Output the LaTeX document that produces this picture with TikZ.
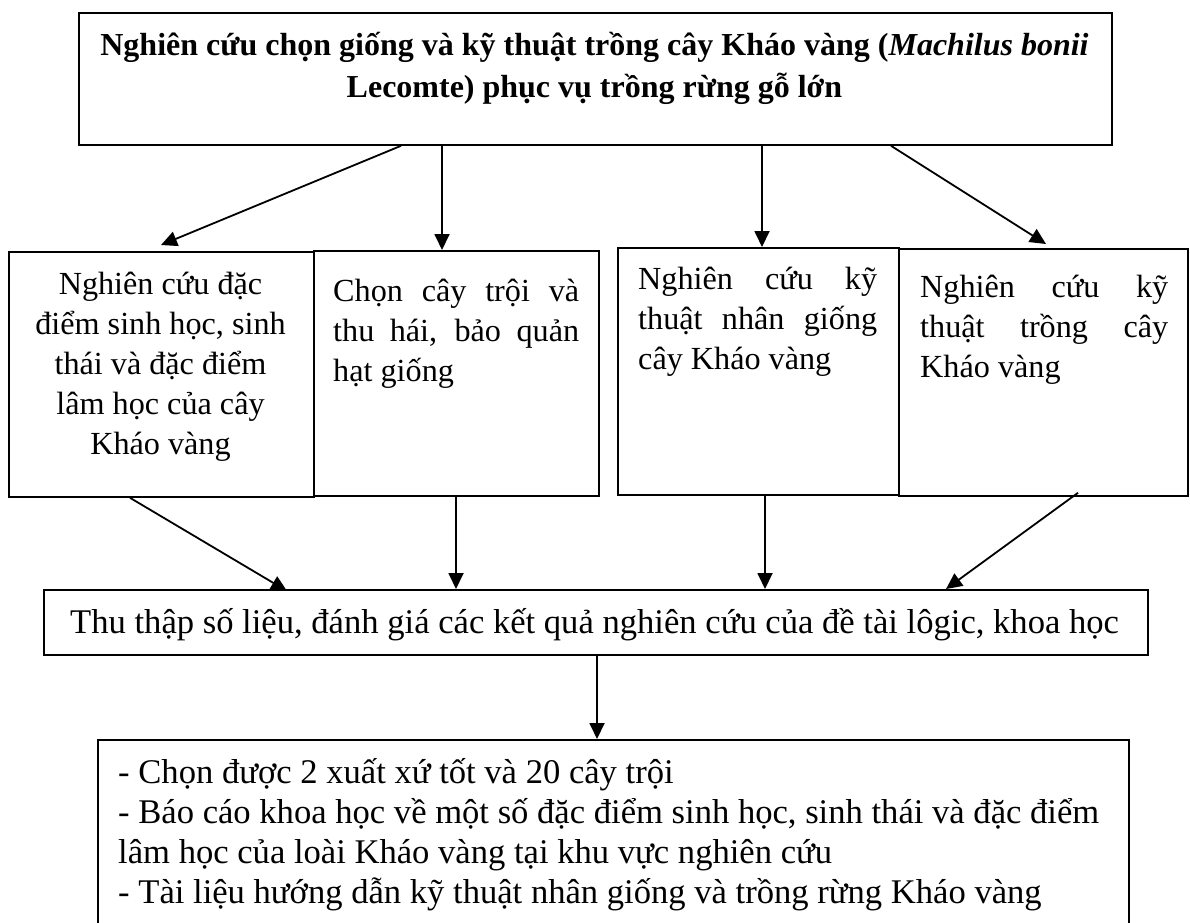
\documentclass[tikz,border=0pt]{standalone}
\usepackage{fontspec}
\setmainfont{Liberation Serif}
\usetikzlibrary{arrows.meta}
\begin{document}
\begin{tikzpicture}[x=1pt,y=-1pt,
  box/.style={draw, line width=1.8pt, inner sep=0pt, anchor=north west},
  txt/.style={inner sep=0pt, font=\fontsize{34.6}{40}\selectfont},
  btxt/.style={inner sep=0pt, font=\fontsize{32.2}{40}\selectfont},
  ttl/.style={inner sep=0pt, font=\fontsize{32}{42}\selectfont\bfseries},
  arr/.style={line width=1.8pt, -{Triangle[length=16pt,width=15pt]}}]
\useasboundingbox (0,0) rectangle (1190,922);
\clip (0,0) rectangle (1190,922);

% boxes
\node[box, minimum width=1033, minimum height=132] (top) at (78,12) {};
\node[box, minimum width=305, minimum height=245] (b1) at (8,251) {};
\node[box, minimum width=285, minimum height=245] (b2) at (313,250) {};
\node[box, minimum width=281, minimum height=247] (b3) at (617,247) {};
\node[box, minimum width=289, minimum height=247] (b4) at (898,248) {};
\node[box, minimum width=1104, minimum height=65] (mid) at (43,589) {};
\node[box, minimum width=1031, minimum height=260] (bot) at (97,739) {};

% texts
\node[ttl, anchor=base] (ttop) at (594.5,55) {\parbox[t]{1030pt}{\centering
  \mbox{Nghiên cứu chọn giống và kỹ thuật trồng cây Kháo vàng (\textit{Machilus bonii}}\\
  \mbox{Lecomte) phục vụ trồng rừng gỗ lớn}}};
\node[btxt, anchor=base] (t1) at (160.5,294) {\parbox[t]{300pt}{\centering
  Nghiên cứu đặc\\ điểm sinh học, sinh\\ thái và đặc điểm\\ lâm học của cây\\ Kháo vàng}};
\node[btxt, anchor=base west] (t2) at (333,301) {\parbox[t]{246pt}{%
  \makebox[246pt][s]{Chọn cây trội và}\\
  \makebox[246pt][s]{thu hái, bảo quản}\\
  hạt giống}};
\node[btxt, anchor=base west] (t3) at (638,289) {\parbox[t]{239pt}{%
  \makebox[239pt][s]{Nghiên cứu kỹ}\\
  \makebox[239pt][s]{thuật nhân giống}\\
  cây Kháo vàng}};
\node[btxt, anchor=base west] (t4) at (920,297) {\parbox[t]{248pt}{%
  \makebox[248pt][s]{Nghiên cứu kỹ}\\
  \makebox[248pt][s]{thuật trồng cây}\\
  Kháo vàng}};
\node[txt, anchor=base west] (tm) at (70,633) {Thu thập số liệu, đánh giá các kết quả nghiên cứu của đề tài lôgic, khoa học};
\node[txt, anchor=base west] (tb) at (118,783) {\parbox[t]{1010pt}{%
  - Chọn được 2 xuất xứ tốt và 20 cây trội\\
  - Báo cáo khoa học về một số đặc điểm sinh học, sinh thái và đặc điểm\\
  lâm học của loài Kháo vàng tại khu vực nghiên cứu\\
  - Tài liệu hướng dẫn kỹ thuật nhân giống và trồng rừng Kháo vàng}};

% connectors
\draw[arr] ([xshift=323pt]top.south west) -- ([xshift=153pt,yshift=6pt]b1.north west);
\draw[arr] ([xshift=364pt]top.south west) -- ([xshift=129pt]b2.north west);
\draw[arr] ([xshift=684pt]top.south west) -- ([xshift=145pt]b3.north west);
\draw[arr] ([xshift=813pt]top.south west) -- ([xshift=148pt,yshift=4pt]b4.north west);

\draw[arr] ([xshift=122pt]b1.south west) -- ([xshift=244pt,yshift=-2pt]mid.north west);
\draw[arr] ([xshift=143pt]b2.south west) -- ([xshift=413pt]mid.north west);
\draw[arr] ([xshift=148pt]b3.south west) -- ([xshift=722pt]mid.north west);
\draw[arr] ([xshift=180pt,yshift=4pt]b4.south west) -- ([xshift=903pt]mid.north west);

\draw[arr] ([xshift=554pt]mid.south west) -- ([xshift=500pt]bot.north west);
\end{tikzpicture}
\end{document}
